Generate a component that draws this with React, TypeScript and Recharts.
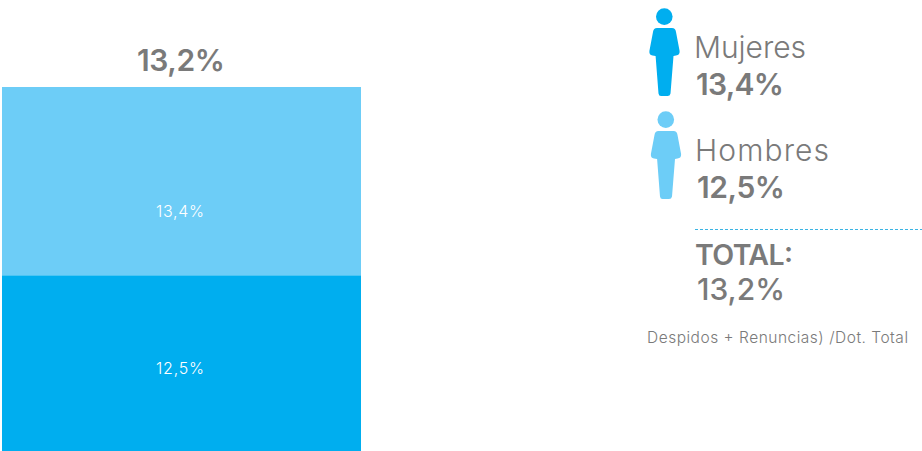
import React from "react";
import { BarChart, Bar, XAxis, YAxis, LabelList } from "recharts";

const categories = ["Rotación"];
const hombresValues = [12.5];
const mujeresValues = [13.4];
const barLabels = ["12,5%", "13,4%"];
const totalLabel = "13,2%";
const legendNames = ["Mujeres", "Hombres"];
const legendValues = ["13,4%", "12,5%"];
const totalTitle = "TOTAL:";
const footnote = "Despidos + Renuncias) /Dot. Total";

const DARK = "#00aeef";
const LIGHT = "#6dcdf7";
const GREY = "#7a7a7a";
const FONT = "Inter, 'Open Sans', sans-serif";

const data = categories.map((c, i) => ({
  name: c,
  hombres: hombresValues[i],
  mujeres: mujeresValues[i],
}));

const Person = ({ dx, dy, fill }: { dx: number; dy: number; fill: string }) => (
  <g transform={`translate(${dx},${dy})`} fill={fill}>
    <circle cx={664.3} cy={16.6} r={8.3} />
    <path d="M657 28 H672 Q675.5 28 676 32 L679.6 51 Q680 55 676 55.5 L673.5 56 L670.5 93.5 Q670 96 667.5 96 H661 Q658.8 96 658.5 93.5 L655.6 56 L652.5 55.5 Q649 55 649.4 51 L653 32 Q653.5 28 657 28 Z" />
  </g>
);

const App = () => (
  <div style={{ position: "absolute", left: 0, top: 0, width: 922, height: 451, background: "#fff" }}>
    <BarChart
      width={922}
      height={451}
      data={data}
      margin={{ top: 87, right: 561, bottom: 0, left: 2 }}
      barCategoryGap={0}
    >
      <XAxis dataKey="name" hide />
      <YAxis hide domain={[0, 25.9]} />
      <Bar dataKey="hombres" stackId="a" fill={DARK} isAnimationActive={false}>
        <LabelList
          position="center"
          content={(p: any) => (
            <text x={156} y={p.y + p.height / 2 + 11} textLength={48} lengthAdjust="spacing" fill="#fff" fontFamily={FONT} fontWeight={300} fontSize={16}>
              {barLabels[0]}
            </text>
          )}
        />
      </Bar>
      <Bar dataKey="mujeres" stackId="a" fill={LIGHT} isAnimationActive={false}>
        <LabelList
          position="center"
          content={(p: any) => (
            <g>
              <text x={156} y={p.y + p.height / 2 + 36} textLength={48} lengthAdjust="spacing" fill="#fff" fontFamily={FONT} fontWeight={300} fontSize={16}>
                {barLabels[1]}
              </text>
              <text x={137} y={p.y - 16} textLength={88} lengthAdjust="spacing" fill={GREY} fontFamily={FONT} fontWeight={600} fontSize={30}>
                {totalLabel}
              </text>
            </g>
          )}
        />
      </Bar>
      <Person dx={0} dy={0} fill={DARK} />
      <Person dx={1.5} dy={103} fill={LIGHT} />
      <g fontFamily={FONT} fill={GREY}>
        <text x={694} y={58} fontSize={30} fontWeight={300} textLength={112} lengthAdjust="spacing">{legendNames[0]}</text>
        <text x={696} y={95} fontSize={30} fontWeight={600} textLength={88} lengthAdjust="spacing">{legendValues[0]}</text>
        <text x={695} y={161} fontSize={30} fontWeight={300} textLength={134} lengthAdjust="spacing">{legendNames[1]}</text>
        <text x={697} y={198} fontSize={30} fontWeight={600} textLength={88} lengthAdjust="spacing">{legendValues[1]}</text>
        <line x1={695} x2={922} y1={229.5} y2={229.5} stroke="#3ab4e4" strokeWidth={1} strokeDasharray="3 2" />
        <text x={695} y={265} fontSize={28.5} fontWeight={600} textLength={98} lengthAdjust="spacing">{totalTitle}</text>
        <text x={697} y={300} fontSize={30} fontWeight={500} textLength={88} lengthAdjust="spacing">{totalLabel}</text>
        <text x={647} y={343} fontSize={15.5} fontWeight={300} textLength={261} lengthAdjust="spacing">{footnote}</text>
      </g>
    </BarChart>
  </div>
);

export default App;
